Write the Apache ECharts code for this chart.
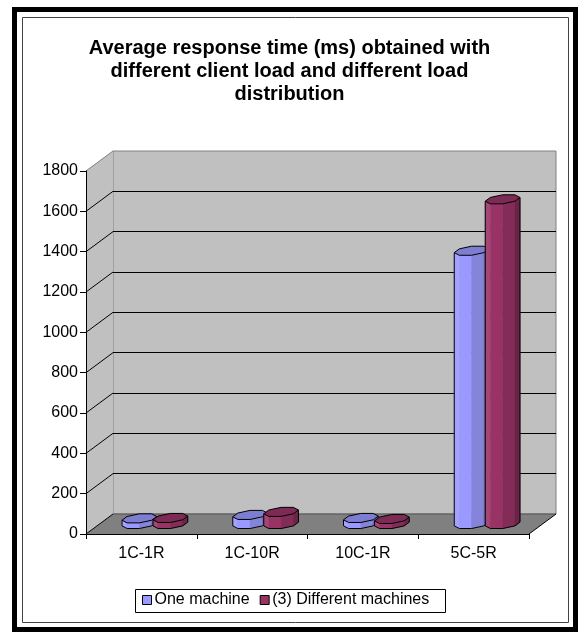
<!DOCTYPE html>
<html><head><meta charset="utf-8">
<script src="https://cdn.jsdelivr.net/npm/echarts@6.0.0/dist/echarts.min.js"></script>
<style>html,body{margin:0;padding:0;background:#fff}#c{width:579px;height:634px}</style>
</head><body><div id="c"></div>
<script>
// ---- data ----
const categories = ['1C-1R', '1C-10R', '10C-1R', '5C-5R'];
const seriesNames = ['One machine', '(3) Different machines'];
const oneMachine = [28, 45, 30, 1355];
const differentMachines = [30, 60, 25, 1610];
const yMin = 0, yMax = 1800, yStep = 200;
const yTicks = [0, 200, 400, 600, 800, 1000, 1200, 1400, 1600, 1800];
const titleText = 'Average response time (ms) obtained with\ndifferent client load and different load\ndistribution';

// ---- style ----
const FONT = 'Liberation Sans, Arial, sans-serif';
const DX = 27, DY = 20;           // depth offset of the 3D box
const colors = [[153, 153, 255], [153, 51, 102]];
const front = { left: 86, top: 171, right: 50, bottom: 100 };
const back = { left: front.left + DX, top: front.top - DY, right: front.right - DX, bottom: front.bottom + DY };

function shade(c, k) {
  const f = k >= 0 ? c.map(x => Math.round(x + (255 - x) * k)) : c.map(x => Math.round(x * (1 + k)));
  return 'rgb(' + f.join(',') + ')';
}

function wallsRender(params, api) {
  const cs = params.coordSys;
  const x0 = cs.x, y0 = cs.y, w = cs.width, h = cs.height, yb = y0 + h;
  return {
    type: 'group',
    children: [
      { type: 'polygon', shape: { points: [[x0, y0], [x0 + DX, y0 - DY], [x0 + DX, yb - DY], [x0, yb]] },
        style: { fill: '#c0c0c0', stroke: null } },
      { type: 'polygon', shape: { points: [[x0, yb], [x0 + w, yb], [x0 + w + DX, yb - DY], [x0 + DX, yb - DY]] },
        style: { fill: '#808080', stroke: null } },
      { type: 'line', shape: { x1: x0 + DX, y1: yb - DY, x2: x0 + w + DX, y2: yb - DY },
        style: { stroke: '#555', lineWidth: 1 } },
      { type: 'line', shape: { x1: x0 + w, y1: yb, x2: x0 + w + DX, y2: yb - DY },
        style: { stroke: '#000', lineWidth: 1 } }
    ]
  };
}

function diagRender(params, api) {
  const cs = params.coordSys;
  const v = api.value(1);
  const y = api.coord([0, v])[1];
  const x0 = cs.x;
  return { type: 'line', shape: { x1: x0, y1: y, x2: x0 + DX, y2: y - DY },
    style: { stroke: v === yMax ? '#808080' : '#000', lineWidth: 1 } };
}

function makeBarRender(sIdx) {
  const col = colors[sIdx];
  return function (params, api) {
    const i = api.value(0), v = api.value(1);
    const band = api.size([1, 0])[0];
    const base = api.coord([i, 0]);
    const topP = api.coord([i, v]);
    const off = (sIdx === 0 ? -1 : 1) * band * 0.14;
    const cx = base[0] + off + DX / 2;
    const yB = base[1] - DY / 2, yT = topP[1] - DY / 2;
    const A = band * 0.145, f = 0.245, B = DX * f, C = DY * f;
    const pts = [];
    for (let k = 0; k < 8; k++) {
      const t = (22.5 + 45 * k) * Math.PI / 180;
      const u = Math.cos(t), w = Math.sin(t);
      pts.push([u * A + w * B, -w * C]);
    }
    const bot = pts.map(p => [cx + p[0], yB + p[1]]);
    const top = pts.map(p => [cx + p[0], yT + p[1]]);
    const faces = [[4, 5, 0.10], [5, 6, 0.0], [6, 7, -0.14], [7, 0, -0.30]];
    const children = [];
    faces.forEach(fc => {
      const a = fc[0], b = fc[1];
      const fill = shade(col, fc[2]);
      children.push({ type: 'polygon', shape: { points: [bot[a], bot[b], top[b], top[a]] },
        style: { fill: fill, stroke: fill, lineWidth: 0.5 } });
    });
    children.push({ type: 'polyline', shape: { points: [top[4], bot[4], bot[5], bot[6], bot[7], bot[0], top[0]] },
      style: { fill: null, stroke: '#000', lineWidth: 1 } });
    children.push({ type: 'polygon', shape: { points: top },
      style: { fill: shade(col, -0.18), stroke: '#000', lineWidth: 1 } });
    return { type: 'group', children: children };
  };
}

const chart = echarts.init(document.getElementById('c'), null, { renderer: 'canvas' });
chart.setOption({
  animation: false,
  backgroundColor: '#fff',
  title: {
    text: titleText, left: 'center', top: 32,
    textStyle: { fontFamily: FONT, fontSize: 20, fontWeight: 'bold', lineHeight: 23, color: '#000' }
  },
  legend: {
    left: 142, top: 592, padding: 0, itemWidth: 9, itemHeight: 9, itemGap: 10,
    textStyle: { fontFamily: FONT, fontSize: 16, color: '#000', padding: [0, 0, 0, -2] },
    data: [
      { name: seriesNames[0], icon: 'rect', itemStyle: { color: shade(colors[0], 0), borderColor: '#000', borderWidth: 1 } },
      { name: seriesNames[1], icon: 'rect', itemStyle: { color: shade(colors[1], 0), borderColor: '#000', borderWidth: 1 } }
    ]
  },
  graphic: [
    { type: 'rect', shape: { x: 14.5, y: 9.5, width: 561, height: 620 }, style: { fill: null, stroke: '#000', lineWidth: 5 }, z: 10 },
    { type: 'rect', shape: { x: 22.5, y: 17.5, width: 546, height: 605 }, style: { fill: null, stroke: '#444', lineWidth: 1 }, z: 10 },
    { type: 'rect', shape: { x: 135.5, y: 589.5, width: 310, height: 23 }, style: { fill: null, stroke: '#000', lineWidth: 1 }, z: 10 }
  ],
  grid: [
    { left: back.left, top: back.top, right: back.right, bottom: back.bottom, show: true,
      backgroundColor: '#c0c0c0', borderColor: '#808080', borderWidth: 1, outerBoundsMode: 'none', containLabel: false },
    { left: front.left, top: front.top, right: front.right, bottom: front.bottom, show: false,
      outerBoundsMode: 'none', containLabel: false }
  ],
  xAxis: [
    { gridIndex: 0, type: 'value', show: false, min: 0, max: 1 },
    { gridIndex: 1, type: 'category', data: categories, z: 5,
      axisLine: { show: true, lineStyle: { color: '#000', width: 1 } },
      axisTick: { show: true, length: 5, lineStyle: { color: '#000' } },
      axisLabel: { fontFamily: FONT, fontSize: 16, color: '#000', margin: 12 },
      splitLine: { show: false } }
  ],
  yAxis: [
    { gridIndex: 0, type: 'value', min: yMin, max: yMax, interval: yStep, z: 1,
      axisLine: { show: false }, axisTick: { show: false }, axisLabel: { show: false },
      splitLine: { show: true, showMinLine: false, showMaxLine: false, lineStyle: { color: '#000', width: 1 } } },
    { gridIndex: 1, type: 'value', min: yMin, max: yMax, interval: yStep, z: 5,
      axisLine: { show: true, lineStyle: { color: '#000', width: 1 } },
      axisTick: { show: true, length: 6, lineStyle: { color: '#000' } },
      axisLabel: { fontFamily: FONT, fontSize: 16, color: '#000', margin: 8, formatter: v => String(v) },
      splitLine: { show: false } }
  ],
  series: [
    { type: 'custom', name: 'walls', xAxisIndex: 1, yAxisIndex: 1, z: 2, silent: true,
      renderItem: wallsRender, data: [[0, 0]] },
    { type: 'custom', name: 'wallLines', xAxisIndex: 1, yAxisIndex: 1, z: 3, silent: true,
      renderItem: diagRender, data: yTicks.map(v => [0, v]) },
    { type: 'custom', name: seriesNames[0], xAxisIndex: 1, yAxisIndex: 1, z: 4,
      itemStyle: { color: shade(colors[0], 0) },
      renderItem: makeBarRender(0), data: oneMachine.map((v, i) => [i, v]) },
    { type: 'custom', name: seriesNames[1], xAxisIndex: 1, yAxisIndex: 1, z: 4,
      itemStyle: { color: shade(colors[1], 0) },
      renderItem: makeBarRender(1), data: differentMachines.map((v, i) => [i, v]) }
  ]
});
</script>
</body></html>
